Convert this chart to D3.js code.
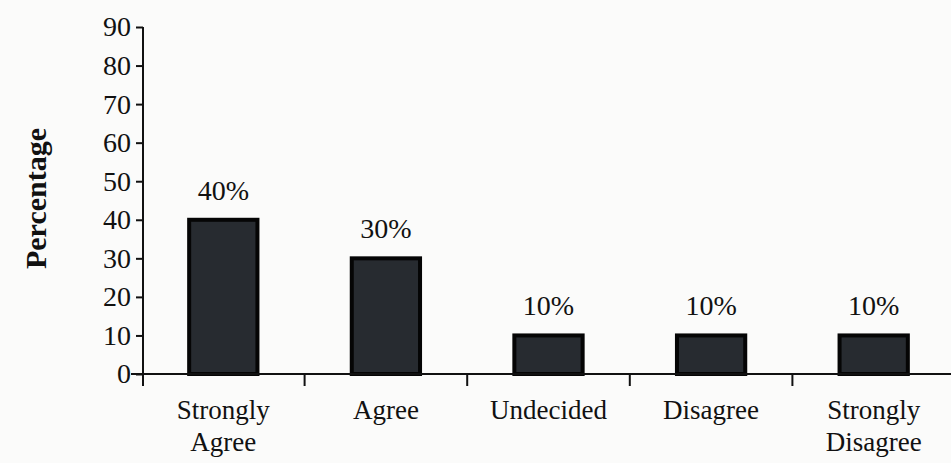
<!DOCTYPE html>
<html>
<head>
<meta charset="utf-8">
<script src="https://cdn.jsdelivr.net/npm/d3@7"></script>
<style>
  html, body { margin: 0; padding: 0; background: #fbfbfa; }
  svg { display: block; }
  text { font-family: "Liberation Serif", "DejaVu Serif", serif; fill: #111; }
  .y-axis .tick text { font-size: 28px; }
</style>
</head>
<body>
<svg id="chart" width="951" height="463"></svg>
<script>
// Survey responses, share of respondents (%)
const categories = ["Strongly Agree", "Agree", "Undecided", "Disagree", "Strongly Disagree"];
const categoryLines = [["Strongly", "Agree"], ["Agree"], ["Undecided"], ["Disagree"], ["Strongly", "Disagree"]];
const values = [40, 30, 10, 10, 10];
const yTicks = [0, 10, 20, 30, 40, 50, 60, 70, 80, 90];
const yTitle = "Percentage";

const svg = d3.select("#chart");
const ink = "#111";

const y = d3.scaleLinear().domain([0, 90]).range([374, 27]);
const x = d3.scaleBand().domain(categories).range([142, 955]).paddingInner(0.58).paddingOuter(0.29);

// bars
svg.append("g")
  .selectAll("rect")
  .data(categories)
  .join("rect")
  .attr("x", d => x(d))
  .attr("y", (d, i) => y(values[i]))
  .attr("width", x.bandwidth())
  .attr("height", (d, i) => y(0) - y(values[i]))
  .attr("fill", "#272b30")
  .attr("stroke", "#050505")
  .attr("stroke-width", 4);

// value labels
svg.append("g")
  .selectAll("text")
  .data(categories)
  .join("text")
  .attr("x", d => x(d) + x.bandwidth() / 2)
  .attr("y", (d, i) => y(values[i]) - 20)
  .attr("text-anchor", "middle")
  .attr("font-size", 28)
  .text((d, i) => values[i] + "%");

// y axis
const yAxis = d3.axisLeft(y).tickValues(yTicks).tickSize(7).tickPadding(5).tickSizeOuter(0);
const gy = svg.append("g").attr("class", "y-axis").attr("transform", "translate(143,0)").call(yAxis);
gy.attr("font-size", null).attr("font-family", null);
gy.select(".domain").attr("d", `M0,${y(90)}V${y(0) + 12}`).attr("stroke", ink).attr("stroke-width", 2);
gy.selectAll(".tick line").attr("stroke", ink).attr("stroke-width", 2);
gy.selectAll(".tick text").attr("fill", ink);

// x axis baseline with ticks between categories
const gx = svg.append("g");
gx.append("line")
  .attr("x1", 131).attr("x2", 951)
  .attr("y1", y(0)).attr("y2", y(0))
  .attr("stroke", ink).attr("stroke-width", 2);
const step = x.step();
gx.selectAll("line.tk")
  .data(categories.slice(0, -1))
  .join("line")
  .attr("class", "tk")
  .attr("x1", d => x(d) + x.bandwidth() + (step - x.bandwidth()) / 2)
  .attr("x2", d => x(d) + x.bandwidth() + (step - x.bandwidth()) / 2)
  .attr("y1", y(0)).attr("y2", y(0) + 12)
  .attr("stroke", ink).attr("stroke-width", 2);

// category labels
const cl = svg.append("g")
  .selectAll("text")
  .data(categories)
  .join("text")
  .attr("text-anchor", "middle")
  .attr("font-size", 27)
  .attr("x", d => x(d) + x.bandwidth() / 2)
  .attr("y", 419);
cl.selectAll("tspan")
  .data((d, i) => categoryLines[i])
  .join("tspan")
  .attr("x", function () { return this.parentNode.getAttribute("x"); })
  .attr("dy", (d, i) => i === 0 ? 0 : 32)
  .text(d => d);

// y title
svg.append("text")
  .attr("transform", `translate(46,${(y(0) + y(90)) / 2 - 2}) rotate(-90)`)
  .attr("text-anchor", "middle")
  .attr("font-size", 30)
  .attr("font-weight", "bold")
  .text(yTitle);
</script>
</body>
</html>
